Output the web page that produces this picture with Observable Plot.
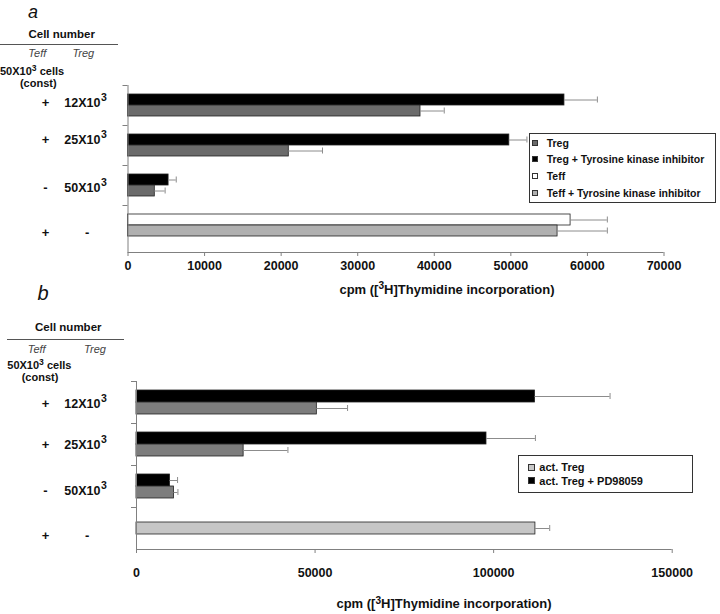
<!DOCTYPE html>
<html><head><meta charset="utf-8">
<script src="https://cdn.jsdelivr.net/npm/d3@7"></script>
<script src="https://cdn.jsdelivr.net/npm/@observablehq/plot@0.6"></script>
<style>
body{margin:0;background:#fff;}
#fig{position:relative;width:720px;height:614px;overflow:hidden;font-family:"Liberation Sans",Arial,sans-serif;color:#111;}
.t{position:absolute;white-space:nowrap;line-height:1;}
.sup{font-size:0.78em;position:relative;top:-0.42em;}
.leg{position:absolute;border:1px solid #333;background:#fff;box-sizing:border-box;}
.sw{position:absolute;box-sizing:border-box;border:1px solid #333;}
</style></head>
<body><div id="fig"></div>
<script>
// ---------- data ----------
const rowTeff = ["+", "+", "-", "+"];
const rowTreg = ["12X10", "25X10", "50X10", "-"];
const rowTregExp = ["3", "3", "3", ""];
const rowKeys = rowTeff.map((t, i) => t + " " + rowTreg[i]);

// panel a
const seriesA = ["Treg", "Treg + Tyrosine kinase inhibitor", "Teff", "Teff + Tyrosine kinase inhibitor"];
const colorsA = ["#6b6b6b", "#000000", "#ffffff", "#b0b0b0"];
const upperSeriesA = [seriesA[1], seriesA[1], seriesA[1], seriesA[2]];
const upperValuesA = [57000, 49800, 5300, 57800];
const upperErrorsA = [4300, 2300, 1000, 4800];
const lowerSeriesA = [seriesA[0], seriesA[0], seriesA[0], seriesA[3]];
const lowerValuesA = [38200, 21000, 3500, 56100];
const lowerErrorsA = [3100, 4400, 1350, 6500];
const xTicksA = [0, 10000, 20000, 30000, 40000, 50000, 60000, 70000];

// panel b
const seriesB = ["act. Treg", "act. Treg + PD98059", "Teff"];
const colorsB = ["#7d7d7d", "#000000", "#c6c6c6"];
const legendSeriesB = ["act. Treg", "act. Treg + PD98059"];
const legendColorsB = ["#c8c8c8", "#000000"];
const pdValuesB = [111600, 98000, 9400];
const pdErrorsB = [21000, 13700, 2100];
const tregValuesB = [50500, 30000, 10500];
const tregErrorsB = [8600, 12400, 1100];
const teffValuesB = [111700];
const teffErrorsB = [4000];
const xTicksB = [0, 50000, 100000, 150000];

const axisTitleHTML = 'cpm ([<span class="sup">3</span>H]Thymidine incorporation)';

// ---------- helpers ----------
const fig = document.getElementById("fig");
function txt(html, x, y, o = {}) {
  const d = document.createElement("div");
  d.className = "t";
  d.innerHTML = html;
  d.style.left = x + "px";
  d.style.top = y + "px";
  d.style.fontSize = (o.size || 11.5) + "px";
  d.style.fontWeight = o.weight || "bold";
  d.style.fontStyle = o.style || "normal";
  d.style.color = o.color || "#111";
  const tx = o.anchor === "start" ? "0" : "-50%";
  d.style.transform = `translate(${tx},-50%)`;
  fig.appendChild(d);
  return d;
}
function hline(x1, x2, y, w, c) {
  const d = document.createElement("div");
  d.style.cssText = `position:absolute;left:${x1}px;top:${y - w / 2}px;width:${x2 - x1}px;height:${w}px;background:${c};`;
  fig.appendChild(d);
}
function legend(names, colors, box, o) {
  const L = document.createElement("div");
  L.className = "leg";
  L.style.left = box.x + "px"; L.style.top = box.y + "px";
  L.style.width = box.w + "px"; L.style.height = box.h + "px";
  L.style.borderWidth = (o.border || 1) + "px";
  fig.appendChild(L);
  names.forEach((n, i) => {
    const cy = o.first + i * o.gap;
    const s = document.createElement("div");
    s.className = "sw";
    s.style.left = (o.swx - o.sw / 2) + "px";
    s.style.top = (cy - o.sw / 2) + "px";
    s.style.width = o.sw + "px"; s.style.height = o.sw + "px";
    s.style.background = colors[i];
    fig.appendChild(s);
    txt(n, o.tx, cy, {size: o.size, anchor: "start"});
  });
}
const svgStyle = {fontFamily: "'Liberation Sans', Arial, sans-serif", fontSize: "12.5px", fontWeight: "bold", color: "#111", background: "transparent", overflow: "visible"};
const errColor = "#8c8c8c", axisColor = "#808080", barStroke = "#222";

function rowLabelMarks(left, dys) {
  const idx = rowKeys.map((k, i) => i);
  const withExp = idx.filter(i => rowTregExp[i] !== "");
  const noExp = idx.filter(i => rowTregExp[i] === "");
  const marks = [];
  idx.forEach(i => {
    const one = [i];
    marks.push(Plot.text(one, {y: j => rowKeys[j], text: j => rowTeff[j], frameAnchor: "left", dx: 45 - left, dy: dys[i], textAnchor: "middle", fontSize: 13, fontWeight: "bold"}));
    if (rowTregExp[i] !== "") {
      marks.push(Plot.text(one, {y: j => rowKeys[j], text: j => rowTreg[j], frameAnchor: "left", dx: 100 - left, dy: dys[i], textAnchor: "end", fontSize: 12.5, fontWeight: "bold"}));
      marks.push(Plot.text(one, {y: j => rowKeys[j], text: j => rowTregExp[j], frameAnchor: "left", dx: 100.5 - left, dy: dys[i] - 5, textAnchor: "start", fontSize: 10.5, fontWeight: "bold"}));
    } else {
      marks.push(Plot.text(one, {y: j => rowKeys[j], text: j => rowTreg[j], frameAnchor: "left", dx: 86.7 - left, dy: dys[i], textAnchor: "middle", fontSize: 13, fontWeight: "bold"}));
    }
  });
  return marks;
}
function errMarks(data, dy, half) {
  return [
    Plot.ruleY(data, {y: "key", x1: "value", x2: d => d.value + d.err, dy, stroke: errColor, strokeWidth: 1}),
    Plot.tickX(data, {y: "key", x: d => d.value + d.err, dy, insetTop: half - 3, insetBottom: half - 3, stroke: errColor, strokeWidth: 1})
  ];
}

// ---------- panel a ----------
const recA = [];
rowKeys.forEach((k, i) => {
  recA.push({key: k, series: upperSeriesA[i], value: upperValuesA[i], err: upperErrorsA[i], slot: "upper"});
  recA.push({key: k, series: lowerSeriesA[i], value: lowerValuesA[i], err: lowerErrorsA[i], slot: "lower"});
});
{
  const H = 300, mt = 85, mb = 48, ml = 127.5, mr = 56.5, ib = 7;
  const step = (H - mt - mb - ib) / rowKeys.length, half = step / 2, bar = 11;
  const up = recA.filter(d => d.slot === "upper"), lo = recA.filter(d => d.slot === "lower");
  const p = Plot.plot({
    width: 720, height: H, marginTop: mt, marginBottom: mb, marginLeft: ml, marginRight: mr,
    x: {domain: [xTicksA[0], xTicksA[xTicksA.length - 1]]},
    y: {domain: rowKeys, padding: 0, round: false, insetBottom: ib, label: null},
    color: {domain: seriesA, range: colorsA},
    style: svgStyle,
    marks: [
      Plot.barX(up, {y: "key", x: "value", fill: "series", stroke: barStroke, strokeWidth: 0.8, insetTop: half - bar, insetBottom: half}),
      Plot.barX(lo, {y: "key", x: "value", fill: "series", stroke: barStroke, strokeWidth: 0.8, insetTop: half, insetBottom: half - bar}),
      ...errMarks(up, -bar / 2, half),
      ...errMarks(lo, bar / 2, half),
      Plot.ruleX([0], {stroke: axisColor}),
      Plot.ruleY([rowKeys[rowKeys.length - 1]], {dy: half + ib, x1: xTicksA[0], x2: xTicksA[xTicksA.length - 1], stroke: axisColor}),
      Plot.axisY({tickSize: 5, dy: -half, tickFormat: () => "", label: null, stroke: axisColor}),
      Plot.axisX({ticks: xTicksA, tickFormat: d3.format("d"), tickSize: 4, tickPadding: 5, label: null, stroke: axisColor, fontSize: 12.5, fontWeight: "bold"}),
      ...rowLabelMarks(ml, [-3, -6, 2, 7])
    ]
  });
  p.style.position = "absolute"; p.style.left = "0px"; p.style.top = "0px";
  fig.appendChild(p);
}
// header a
txt("a", 33, 12, {size: 18, weight: "normal", style: "italic"});
txt("Cell number", 61.7, 35, {size: 11.5});
hline(0, 118.3, 44.3, 1.3, "#555");
txt("Teff", 37.3, 53.3, {size: 11, weight: "normal", style: "italic", color: "#444"});
txt("Treg", 83.3, 53.3, {size: 11, weight: "normal", style: "italic", color: "#444"});
txt('50X10<span class="sup">3</span> cells', 0, 70.5, {size: 11, anchor: "start"});
txt("(const)", 38.3, 82.5, {size: 11});
legend(seriesA, colorsA, {x: 529, y: 133.3, w: 187, h: 70}, {first: 142.5, gap: 16.8, swx: 535, sw: 6, tx: 546.7, size: 10.5, border: 1});
txt(axisTitleHTML, 447, 289.5, {size: 13});

// ---------- panel b ----------
const recB = [];
rowKeys.forEach((k, i) => {
  if (i < pdValuesB.length) {
    recB.push({key: k, series: seriesB[1], value: pdValuesB[i], err: pdErrorsB[i], slot: "upper"});
    recB.push({key: k, series: seriesB[0], value: tregValuesB[i], err: tregErrorsB[i], slot: "lower"});
  } else {
    const j = i - pdValuesB.length;
    recB.push({key: k, series: seriesB[2], value: teffValuesB[j], err: teffErrorsB[j], slot: "single"});
  }
});
{
  const top = 310, H = 304, mt = 71, mb = 65, ml = 136, mr = 48.3, ib = 0;
  const step = (H - mt - mb - ib) / rowKeys.length, half = step / 2, bar = 12;
  const up = recB.filter(d => d.slot === "upper"), lo = recB.filter(d => d.slot === "lower"), si = recB.filter(d => d.slot === "single");
  const p = Plot.plot({
    width: 720, height: H, marginTop: mt, marginBottom: mb, marginLeft: ml, marginRight: mr,
    x: {domain: [xTicksB[0], xTicksB[xTicksB.length - 1]]},
    y: {domain: rowKeys, padding: 0, round: false, insetBottom: ib, label: null},
    color: {domain: seriesB, range: colorsB},
    style: svgStyle,
    marks: [
      Plot.barX(up, {y: "key", x: "value", fill: "series", stroke: barStroke, strokeWidth: 0.8, insetTop: half - bar, insetBottom: half}),
      Plot.barX(lo, {y: "key", x: "value", fill: "series", stroke: barStroke, strokeWidth: 0.8, insetTop: half, insetBottom: half - bar}),
      Plot.barX(si, {y: "key", x: "value", fill: "series", stroke: barStroke, strokeWidth: 0.8, insetTop: half - bar / 2, insetBottom: half - bar / 2}),
      ...errMarks(up, -bar / 2, half),
      ...errMarks(lo, bar / 2, half),
      ...errMarks(si, 0, half),
      Plot.ruleX([0], {stroke: axisColor}),
      Plot.ruleY([rowKeys[rowKeys.length - 1]], {dy: half + ib, x1: xTicksB[0], x2: xTicksB[xTicksB.length - 1], stroke: axisColor}),
      Plot.axisY({tickSize: 5, dy: -half, tickFormat: () => "", label: null, stroke: axisColor}),
      Plot.axisX({ticks: xTicksB, tickFormat: d3.format("d"), tickSize: 4, tickPadding: 15, label: null, stroke: axisColor, fontSize: 12.5, fontWeight: "bold"}),
      ...rowLabelMarks(ml, [1, 0, 4, 7])
    ]
  });
  p.style.position = "absolute"; p.style.left = "0px"; p.style.top = top + "px";
  fig.appendChild(p);
}
// header b
txt("b", 43, 293, {size: 20, weight: "normal", style: "italic"});
txt("Cell number", 68.3, 328.3, {size: 11.5});
hline(6.7, 124, 339.3, 1.3, "#555");
txt("Teff", 36.7, 349.3, {size: 11, weight: "normal", style: "italic", color: "#444"});
txt("Treg", 95, 349.3, {size: 11, weight: "normal", style: "italic", color: "#444"});
txt('50X10<span class="sup">3</span> cells', 7.3, 364.5, {size: 11, anchor: "start"});
txt("(const)", 40, 377, {size: 11});
legend(legendSeriesB, legendColorsB, {x: 518.3, y: 455, w: 174.4, h: 37.7}, {first: 467.3, gap: 13.4, swx: 531, sw: 7, tx: 539.3, size: 11, border: 1.5});
txt(axisTitleHTML, 444, 604, {size: 13});
</script></body></html>
